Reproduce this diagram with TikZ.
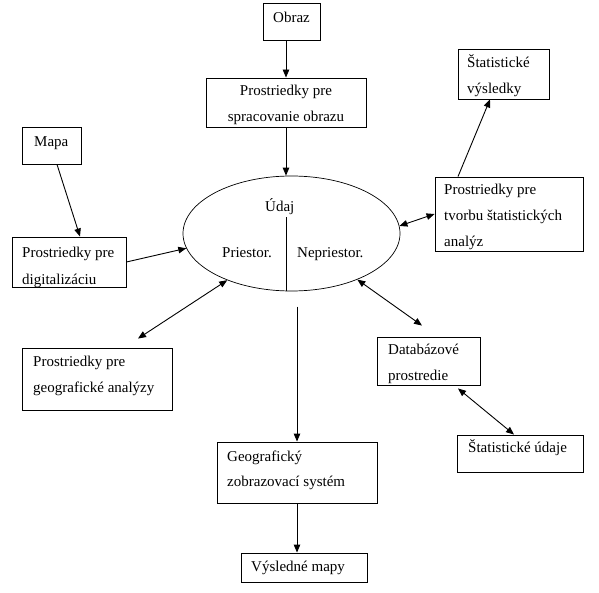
\documentclass[tikz,border=0pt]{standalone}
\usepackage{fontspec}
\setmainfont{Liberation Serif}
\usetikzlibrary{shapes.geometric,arrows.meta}
\tikzset{
  box/.style={draw, rectangle, inner sep=0pt, line width=0.9pt},
  oval/.style={draw, ellipse, inner sep=0pt, line width=0.7pt, minimum width=217pt, minimum height=115pt},
  lbl/.style={anchor=base west, inner sep=0pt, font=\fontsize{15}{18}\selectfont},
  clbl/.style={anchor=base, inner sep=0pt, font=\fontsize{15}{18}\selectfont},
  conn/.style={line width=0.9pt},
  arr/.style={conn, -{Triangle[length=8pt,width=6.5pt]}},
  darr/.style={conn, {Triangle[length=8pt,width=6.5pt]}-{Triangle[length=8pt,width=6.5pt]}}
}
\begin{document}
\begin{tikzpicture}[x=1pt,y=-1pt]
\useasboundingbox (0,0) rectangle (599,593);
% boxes
\node[box, minimum width=57pt, minimum height=37pt] (obraz) at (291.5,21.5) {};
\node[box, minimum width=160pt, minimum height=49pt] (sprac) at (286,102.5) {};
\node[box, minimum width=91pt, minimum height=50pt] (vysl) at (503.5,74) {};
\node[box, minimum width=148pt, minimum height=74pt] (statan) at (509,214) {};
\node[box, minimum width=59pt, minimum height=37pt] (mapa) at (51.5,145.5) {};
\node[box, minimum width=114pt, minimum height=50pt] (dig) at (69,262) {};
\node[box, minimum width=150pt, minimum height=62pt] (geoan) at (97,379) {};
\node[box, minimum width=103pt, minimum height=48pt] (datab) at (428.5,361) {};
\node[box, minimum width=126pt, minimum height=37pt] (statud) at (520,453.5) {};
\node[box, minimum width=160pt, minimum height=61pt] (geog) at (297,472.5) {};
\node[box, minimum width=126pt, minimum height=29pt] (mapy) at (304,567.5) {};
\node[oval] (udaj) at (291.5,233.5) {};
% texts
\node[clbl] (tobraz) at (291.5,22.7) {Obraz};
\node[clbl] (tsprac1) at (286,96) {Prostriedky pre};
\node[clbl] (tsprac2) at (286,121.7) {spracovanie obrazu};
\node[lbl] (tvysl1) at (467,67.7) {Štatistické};
\node[lbl] (tvysl2) at (467,94) {výsledky};
\node[lbl] (tstat1) at (444,195) {Prostriedky pre};
\node[lbl] (tstat2) at (444,221) {tvorbu štatistických};
\node[lbl] (tstat3) at (444,246.7) {analýz};
\node[lbl] (tmapa) at (34,146.7) {Mapa};
\node[lbl] (tdig1) at (22,257.3) {Prostriedky pre};
\node[lbl] (tdig2) at (22,284.3) {digitalizáciu};
\node[lbl] (tgeoan1) at (33,366.7) {Prostriedky pre};
\node[lbl] (tgeoan2) at (33,392.7) {geografické analýzy};
\node[lbl] (tdatab1) at (388,354.3) {Databázové};
\node[lbl] (tdatab2) at (388,380) {prostredie};
\node[lbl] (tstatud) at (468,452.7) {Štatistické údaje};
\node[lbl] (tgeog1) at (227,461) {Geografický};
\node[lbl] (tgeog2) at (227,486) {zobrazovací systém};
\node[lbl] (tmapy) at (251,571) {Výsledné mapy};
\node[lbl] (tudaj) at (265,212) {Údaj};
\node[lbl] (tpri) at (222,258) {Priestor.};
\node[lbl] (tnepri) at (297,258) {Nepriestor.};
% divider
\draw[conn] ([xshift=-5.5pt]udaj.south) -- ([xshift=-5.5pt,yshift=74pt]udaj.south);
% connectors
\draw[arr] (sprac.north |- obraz.south) -- (sprac.north);
\draw[arr] (sprac.south) -- (sprac.south |- udaj.north);
\draw[arr] ([xshift=5.5pt]mapa.south) -- ([xshift=11pt]dig.north);
\draw[arr] (dig.east) -- (udaj.188);
\draw[darr] (udaj.216) -- ([xshift=41pt,yshift=9pt]geoan.north);
\draw[darr] (udaj.4) -- (statan.west);
\draw[arr] ([xshift=-51pt]statan.north) -- ([xshift=-13.5pt]vysl.south);
\draw[darr] (udaj.325) -- ([xshift=-6.5pt,yshift=11pt]datab.north);
\draw[darr] ([xshift=29.5pt,yshift=-3pt]datab.south) -- ([xshift=-6pt]statud.north);
\draw[arr] ([yshift=135pt]geog.north) -- (geog.north);
\draw[arr] (geog.south) -- (geog.south |- mapy.north);
\end{tikzpicture}
\end{document}
